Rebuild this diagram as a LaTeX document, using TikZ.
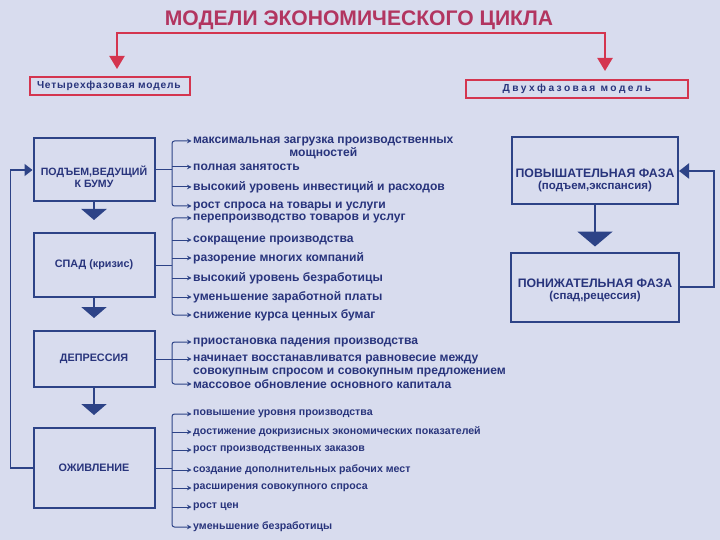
\documentclass[tikz,border=0pt]{standalone}
\usepackage{fontspec}
\setmainfont{Liberation Sans}
\newfontfamily\spacedfont[LetterSpace=8]{Liberation Sans}
\newfontfamily\widefont[LetterSpace=24]{Liberation Sans}
\usetikzlibrary{arrows.meta}

\definecolor{pagebg}{HTML}{D8DCEE}
\definecolor{navy}{HTML}{2D4387}
\definecolor{ink}{HTML}{28347C}
\definecolor{crimson}{HTML}{B23560}
\definecolor{redline}{HTML}{D4354F}

\tikzstyle{phase}=[draw=navy, line width=2pt, minimum width=121pt, align=center, inner sep=0pt,
  text=ink, font=\bfseries\fontsize{10.8}{12.5}\selectfont]
\tikzstyle{phase text}=[align=center, inner sep=0pt, text=ink, font=\bfseries\fontsize{10.6}{12}\selectfont]
\tikzstyle{model}=[draw=redline, line width=2pt, inner sep=0pt, text=ink, minimum height=18pt,
  font=\spacedfont\bfseries\fontsize{10.2}{11}\selectfont]
\tikzstyle{item}=[anchor=west, inner sep=0pt, text=ink, font=\bfseries\fontsize{12.1}{13}\selectfont]
\tikzstyle{small item}=[item, font=\bfseries\fontsize{10.6}{11}\selectfont]
\tikzstyle{tick}=[navy, line width=1pt, rounded corners=2.5pt, -{Stealth[length=4.5pt,width=4.5pt]}, shorten >=1.5pt]
\tikzstyle{down}=[navy, line width=2.5pt, -{Triangle[length=11pt,width=25pt]}]
\tikzstyle{back}=[navy, line width=1.6pt, -{Triangle[length=8pt,width=12pt]}]
\tikzstyle{red arrow}=[redline, line width=2.2pt, -{Triangle[length=13pt,width=15pt]}]

\begin{document}
\begin{tikzpicture}[x=1pt, y=-1pt]
  \fill[pagebg] (0,0) rectangle (720,540);
  \useasboundingbox (0,0) rectangle (720,540);

  % title and the two models
  \node[text=crimson, font=\bfseries\fontsize{21.1}{23}\selectfont] (title) at (359,20) {МОДЕЛИ ЭКОНОМИЧЕСКОГО ЦИКЛА};
  \node[model, minimum width=160pt, text width=146pt, align=left] (four) at (110,86) {Четырехфазовая модель};
  \node[model, minimum width=222pt, font=\widefont\bfseries\fontsize{10.2}{11}\selectfont] (two) at (577,89) {Двухфазовая модель};
  \coordinate (fork) at (359,33);
  \draw[red arrow] (fork) -| ([xshift=7pt,yshift=7pt]four.north);
  \draw[red arrow] (fork) -| ([xshift=28pt,yshift=8pt]two.north);

  % four phases
  \node[phase, minimum height=63pt] (rise) at (94,170) {};
  \node[phase text] (riset) at (94,177) {ПОДЪЕМ,ВЕДУЩИЙ\\К БУМУ};
  \node[phase, minimum height=64pt] (fall) at (94,265) {СПАД (кризис)};
  \node[phase, minimum height=56pt] (depr) at (94,359) {ДЕПРЕССИЯ};
  \node[phase, minimum height=80pt] (revi) at (94,468) {ОЖИВЛЕНИЕ};
  \draw[down, shorten >=12pt] (rise) -- (fall);
  \draw[down, shorten >=12pt] (fall) -- (depr);
  \draw[down, shorten >=12pt] (depr) -- (revi);
  \draw[back] (revi.west) -- ++(-22,0) |- (rise.west);

  % features of each phase
  \foreach \n/\y/\t in {1/141/{максимальная загрузка производственных},2/167/{полная занятость},
      3/187/{высокий уровень инвестиций и расходов},4/206/{рост спроса на товары и услуги}}
    \node[item] (r\n) at (193,\y) {\t};
  \node[item, anchor=center] (r1b) at (r1.center |- 0,153) {мощностей};
  \draw[navy, line width=1pt] (rise.east) -- (172,170) coordinate (rj);
  \draw[tick] (rj) |- (r1.west);
  \draw[tick] (rj) |- (r4.west);
  \foreach \n in {2,3} \draw[tick] (rj |- r\n.west) -- (r\n.west);

  \foreach \n/\y/\t in {1/218/{перепроизводство товаров и услуг},2/240/{сокращение производства},
      3/258/{разорение многих компаний},4/278/{высокий уровень безработицы},
      5/297/{уменьшение заработной платы},6/315/{снижение курса ценных бумаг}}
    \node[item] (f\n) at (193,\y) {\t};
  \draw[navy, line width=1pt] (fall.east) -- (172,265) coordinate (fj);
  \draw[tick] (fj) |- (f1.west);
  \draw[tick] (fj) |- (f6.west);
  \foreach \n in {2,...,5} \draw[tick] (fj |- f\n.west) -- (f\n.west);

  \node[item] (d1) at (193,342) {приостановка падения производства};
  \node[item] (d2) at (193,359) {начинает восстанавливатся равновесие между};
  \node[item] (d2b) at (193,372) {совокупным спросом и совокупным предложением};
  \node[item] (d3) at (193,384) {массовое обновление основного капитала};
  \draw[navy, line width=1pt] (depr.east) -- (172,359) coordinate (dj);
  \draw[tick] (dj) |- (d1.west);
  \draw[tick] (dj) |- (d3.west);
  \draw[tick] (dj |- d2.west) -- (d2.west);

  \foreach \n/\y/\t in {1/414/{повышение уровня производства},2/432/{достижение докризисных экономических показателей},
      3/450/{рост производственных заказов},4/470/{создание дополнительных рабочих мест},
      5/488/{расширения совокупного спроса},6/507/{рост цен},7/527/{уменьшение безработицы}}
    \node[small item] (v\n) at (193,\y) {\t};
  \draw[navy, line width=1pt] (revi.east) -- (172,468) coordinate (vj);
  \draw[tick] (vj) |- (v1.west);
  \draw[tick] (vj) |- (v7.west);
  \foreach \n in {2,...,6} \draw[tick] (vj |- v\n.west) -- (v\n.west);

  % two phases
  \node[phase, minimum width=166pt, minimum height=67pt] (up) at (595,171) {};
  \node[phase text, font=\bfseries\fontsize{12.3}{12}\selectfont] (upt) at (595,180)
    {ПОВЫШАТЕЛЬНАЯ ФАЗА\\{\fontsize{11.5}{12}\selectfont(подъем,экспансия)}};
  \node[phase, minimum width=168pt, minimum height=69pt] (dn) at (595,287) {};
  \node[phase text, font=\bfseries\fontsize{12.3}{12}\selectfont] (dnt) at (595,290)
    {ПОНИЖАТЕЛЬНАЯ ФАЗА\\{\fontsize{11.5}{12}\selectfont(спад,рецессия)}};
  \draw[down, -{Triangle[length=15pt,width=35pt]}, shorten >=5pt] (up) -- (dn);
  \draw[back, line width=2pt, -{Triangle[length=10pt,width=15pt]}] (dn.east) -- ++(34,0) |- (up.east);
\end{tikzpicture}
\end{document}
